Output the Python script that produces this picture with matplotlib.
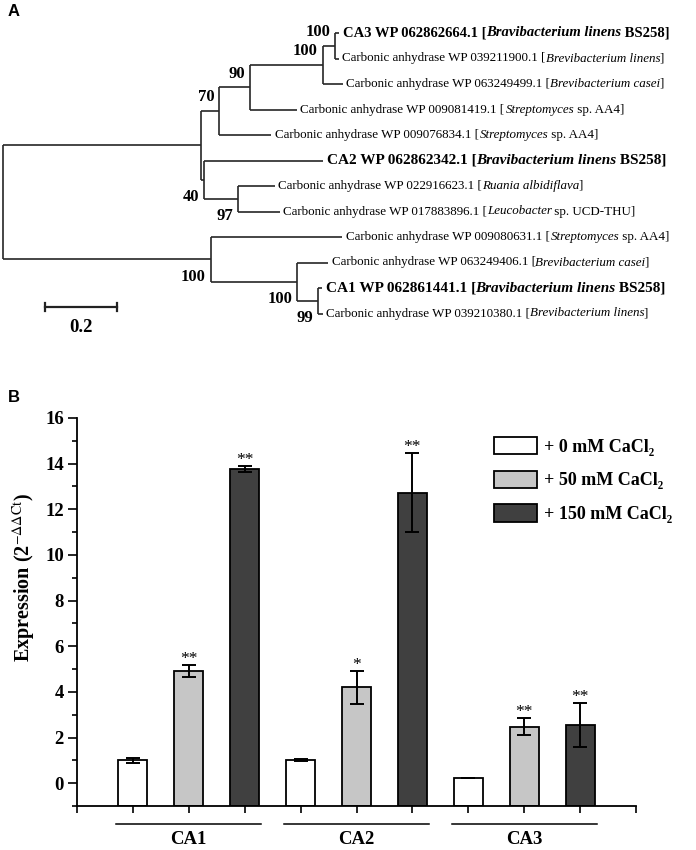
import matplotlib
matplotlib.use("Agg")
import matplotlib.pyplot as plt
from matplotlib.ticker import MultipleLocator
import matplotlib.transforms as mtransforms

plt.rcParams['font.family'] = ['Liberation Serif', 'DejaVu Serif']
plt.rcParams['mathtext.fontset'] = 'stix'

# ---------------- Panel A data: phylogenetic tree ----------------
leaf_prefix = ['CA3 WP', 'Carbonic anhydrase WP', 'Carbonic anhydrase WP', 'Carbonic anhydrase WP',
               'Carbonic anhydrase WP', 'CA2 WP', 'Carbonic anhydrase WP', 'Carbonic anhydrase WP',
               'Carbonic anhydrase WP', 'Carbonic anhydrase WP', 'CA1 WP', 'Carbonic anhydrase WP']
leaf_acc = ['062862664.1', '039211900.1', '063249499.1', '009081419.1', '009076834.1', '062862342.1',
            '022916623.1', '017883896.1', '009080631.1', '063249406.1', '062861441.1', '039210380.1']
leaf_species = ['Bravibacterium linens', 'Brevibacterium linens', 'Brevibacterium casei', 'Streptomyces',
                'Streptomyces', 'Bravibacterium linens', 'Ruania albidiflava', 'Leucobacter',
                'Streptomyces', 'Brevibacterium casei', 'Bravibacterium linens', 'Brevibacterium linens']
leaf_suffix = [' BS258]', ']', ']', ' sp. AA4]', ' sp. AA4]', ' BS258]', ']', ' sp. UCD-THU]',
               ' sp. AA4]', ']', ' BS258]', ']']
leaf_bold = [True, False, False, False, False, True, False, False, False, False, True, False]

edge_child = ['U', 'Lo', 'n70', 'n40', 'n90', 't4', 'n100b', 't3', 'n100a', 't2', 't0', 't1',
              't5', 'n97', 't6', 't7', 't8', 'n100c', 't9', 'n99', 't10', 't11']
edge_parent = ['root', 'root', 'U', 'U', 'n70', 'n70', 'n90', 'n90', 'n100b', 'n100b', 'n100a', 'n100a',
               'n40', 'n40', 'n97', 'n97', 'Lo', 'Lo', 'n100c', 'n100c', 'n99', 'n99']
edge_length = [0.550, 0.577, 0.051, 0.008, 0.084, 0.144, 0.203, 0.131, 0.034, 0.056, 0.012, 0.011,
               0.331, 0.095, 0.102, 0.116, 0.365, 0.241, 0.085, 0.058, 0.010, 0.012]

boot_node = ['n100a', 'n100b', 'n90', 'n70', 'n40', 'n97', 'Lo', 'n100c', 'n99']
boot_value = [100, 100, 90, 70, 40, 97, 100, 100, 99]
boot_above = [True, True, True, True, False, False, False, False, False]
scale_bar = 0.2

# ---------------- Panel B data: expression ----------------
genes = ['CA1', 'CA2', 'CA3']
treatments = ['+ 0 mM CaCl\u2082', '+ 50 mM CaCl\u2082', '+ 150 mM CaCl\u2082']
expr_0 = [1.00, 1.02, 0.22]
err_0 = [0.12, 0.03, 0.01]
expr_50 = [4.91, 4.20, 2.47]
err_50 = [0.26, 0.72, 0.37]
expr_150 = [13.76, 12.73, 2.55]
err_150 = [0.13, 1.73, 0.98]
sig_0 = ['', '', '']
sig_50 = ['**', '*', '**']
sig_150 = ['**', '**', '**']
bar_colors = ['#ffffff', '#c6c6c6', '#404040']

W, H = 696, 850
fig = plt.figure(figsize=(W / 100, H / 100), dpi=100)

# ================= Panel A =================
axA = fig.add_axes([0, 1 - 370 / H, 1, 370 / H])
axA.axis('off')
x0_px, px_per_unit = 3, 360
y0_px, px_per_leaf = 33, 25.5
axA.set_xlim(-x0_px / px_per_unit, (W - x0_px) / px_per_unit)
axA.set_ylim((370 - y0_px) / px_per_leaf, -y0_px / px_per_leaf)

children = {}
length = {}
for c, p, l in zip(edge_child, edge_parent, edge_length):
    children.setdefault(p, []).append(c)
    length[c] = l

xpos, ypos = {'root': 0.0}, {}


def place(node):
    for c in children.get(node, []):
        xpos[c] = xpos[node] + length[c]
        place(c)
    if node.startswith('t'):
        ypos[node] = float(node[1:])
    else:
        ys = [ypos[c] for c in children[node]]
        ypos[node] = (min(ys) + max(ys)) / 2


place('root')
lc = '#262626'
lw = 1.2
for node, kids in children.items():
    ys = [ypos[c] for c in kids]
    axA.plot([xpos[node], xpos[node]], [min(ys), max(ys)], color=lc, lw=lw, solid_capstyle='butt')
for c, p in zip(edge_child, edge_parent):
    axA.plot([xpos[p], xpos[c]], [ypos[c], ypos[c]], color=lc, lw=lw, solid_capstyle='butt')

for i in range(len(leaf_acc)):
    node = 't%d' % i
    bold = leaf_bold[i]
    size = (10.5 if i == 0 else 11) if bold else 9.4
    wt = 'bold' if bold else 'normal'
    # italic capitals lean right: give round letters a bit more room than stemmed ones
    it_dx = 0.9 if leaf_species[i][0] in 'SC' else -0.2
    pieces = [(leaf_prefix[i] + ' ' + leaf_acc[i] + ' [', 'normal', 0),
              (leaf_species[i], 'italic', it_dx),
              (leaf_suffix[i], 'normal', -0.4)]
    prev = axA.annotate(pieces[0][0], xy=(xpos[node], ypos[node]), xytext=(2.6, 0),
                        textcoords='offset points', va='center', ha='left',
                        fontsize=size, fontweight=wt, fontstyle=pieces[0][1])
    for txt, st, dx in pieces[1:]:
        prev = axA.annotate(txt, xy=(1, 0), xycoords=prev, xytext=(dx, 0),
                            textcoords='offset points', va='bottom', ha='left',
                            fontsize=size, fontweight=wt, fontstyle=st)

for n, v, above in zip(boot_node, boot_value, boot_above):
    axA.annotate(str(v), xy=(xpos[n], ypos[n]), xytext=(-3.5, 9.8 if above else -12.6),
                 textcoords='offset points', ha='right', va='center',
                 fontsize=12, fontweight='bold')

sb_x = (45 - x0_px) / px_per_unit
sb_y = (307 - y0_px) / px_per_leaf
sb_h = 0.17
axA.plot([sb_x, sb_x + scale_bar], [sb_y, sb_y], color='#222222', lw=1.6)
axA.plot([sb_x, sb_x], [sb_y - sb_h, sb_y + sb_h], color='#222222', lw=1.6)
axA.plot([sb_x + scale_bar, sb_x + scale_bar], [sb_y - sb_h, sb_y + sb_h], color='#222222', lw=1.6)
axA.annotate('%.1f' % scale_bar, xy=(sb_x + scale_bar / 2, sb_y), xytext=(0, -14.5),
             textcoords='offset points', ha='center', va='center', fontsize=13.5, fontweight='bold')

fig.text(8 / W, 1 - 11 / H, 'A', family='Liberation Sans', fontweight='bold', fontsize=12,
         ha='left', va='center')
fig.text(8 / W, 1 - 398 / H, 'B', family='Liberation Sans', fontweight='bold', fontsize=12,
         ha='left', va='center')

# ================= Panel B =================
axB = fig.add_axes([77 / W, 1 - 806 / H, (636 - 77) / W, (806 - 418) / H])
ymin, ymax = -1, 16
axB.set_ylim(ymin, ymax)
axB.set_xlim(0, 10)

series = [(expr_0, err_0, sig_0), (expr_50, err_50, sig_50), (expr_150, err_150, sig_150)]
handles = []
for t, (vals, errs, sigs) in enumerate(series):
    xs = [1 + 3 * g + t for g in range(len(genes))]
    bars = axB.bar(xs, [v - ymin for v in vals], bottom=ymin, width=0.52, color=bar_colors[t],
                   edgecolor='black', linewidth=1.3, label=treatments[t], zorder=2)
    handles.append(bars)
    axB.errorbar(xs, vals, yerr=errs, fmt='none', ecolor='black', elinewidth=1.4,
                 capsize=5.2, capthick=1.4, zorder=3)
    for x, v, e, s in zip(xs, vals, errs, sigs):
        if s:
            axB.annotate(s, xy=(x, v + e), xytext=(0, -1.5), textcoords='offset points',
                         ha='center', va='bottom', fontsize=12.5)

for side in ['top', 'right']:
    axB.spines[side].set_visible(False)
for side in ['left', 'bottom']:
    axB.spines[side].set_linewidth(1.3)

axB.set_xticks(range(0, 11))
axB.set_xticklabels([])
axB.tick_params(axis='x', direction='out', length=5, width=1.2)
axB.set_yticks(range(0, 17, 2))
axB.yaxis.set_minor_locator(MultipleLocator(1))
axB.tick_params(axis='y', which='major', direction='out', length=6.5, width=1.2,
                labelsize=13.5, pad=3)
axB.tick_params(axis='y', which='minor', direction='out', length=3.5, width=1.2)
for lab in axB.get_yticklabels():
    lab.set_fontweight('bold')

trans = mtransforms.blended_transform_factory(axB.transData, axB.transAxes)
for g, gene in enumerate(genes):
    c = 2 + 3 * g
    axB.plot([c - 1.3, c + 1.3], [-0.046, -0.046], transform=trans, color='black', lw=1.1,
             clip_on=False)
    axB.text(c, -0.086, gene, transform=trans, ha='center', va='center', fontsize=13.5,
             fontweight='bold')

fig.text(24 / W, 1 - 662 / H, 'Expression (2$^{\\mathrm{-\\Delta\\Delta Ct}}$)', rotation=90,
         ha='center', va='bottom', fontsize=14.5, fontweight='bold')

axB.legend(handles=handles, loc='upper left', bbox_to_anchor=((494 - 77) / 559, (806 - 437) / 388),
           frameon=False, borderpad=0, borderaxespad=0, handlelength=2.4, handleheight=1.1,
           labelspacing=0.82, handletextpad=0.35,
           prop={'weight': 'bold', 'size': 13, 'family': ['Liberation Serif', 'DejaVu Serif']})

fig.savefig('out.png', dpi=100)
